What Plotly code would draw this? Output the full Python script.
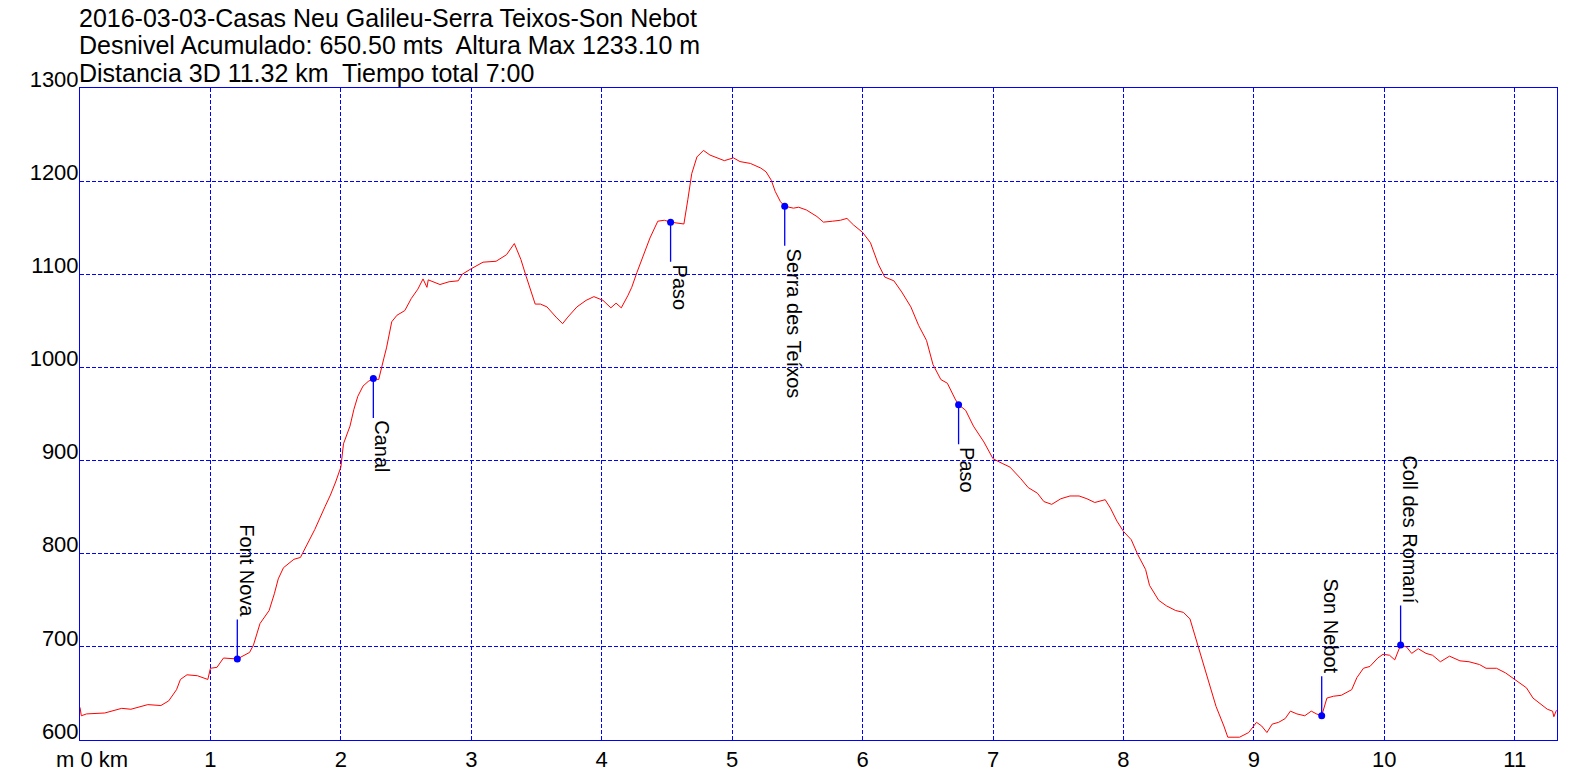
import plotly.graph_objects as go

# ---------------- data ----------------
title_lines = [
    "2016-03-03-Casas Neu Galileu-Serra Teixos-Son Nebot",
    "Desnivel Acumulado: 650.50 mts  Altura Max 1233.10 m",
    "Distancia 3D 11.32 km  Tiempo total 7:00",
]

dist_km = [0, 0.01, 0.05, 0.19, 0.32, 0.39, 0.52, 0.62, 0.68, 0.74, 0.77, 0.82, 0.90, 0.98,
           1.00, 1.05, 1.10, 1.206, 1.30, 1.33, 1.38, 1.45, 1.49, 1.52, 1.56, 1.64, 1.69, 1.74,
           1.80, 1.88, 1.92, 1.96, 2.00, 2.02, 2.07, 2.10, 2.13, 2.17, 2.21, 2.249, 2.29, 2.33,
           2.35, 2.39, 2.43, 2.49, 2.54, 2.59, 2.63, 2.66, 2.67, 2.76, 2.83, 2.90, 2.93, 3.00,
           3.09, 3.19, 3.27, 3.33, 3.38, 3.42, 3.46, 3.49, 3.53, 3.58, 3.65, 3.70, 3.74, 3.81,
           3.88, 3.94, 4.01, 4.07, 4.11, 4.15, 4.20, 4.23, 4.27, 4.32, 4.37, 4.43, 4.48, 4.528,
           4.63, 4.66, 4.69, 4.73, 4.78, 4.83, 4.89, 4.94, 5.01, 5.06, 5.14, 5.22, 5.26, 5.30,
           5.33, 5.37, 5.403, 5.47, 5.51, 5.57, 5.65, 5.70, 5.77, 5.83, 5.88, 5.93, 6.00, 6.06,
           6.12, 6.17, 6.24, 6.30, 6.37, 6.43, 6.49, 6.54, 6.60, 6.65, 6.71, 6.736, 6.79, 6.85,
           6.93, 7.00, 7.07, 7.13, 7.21, 7.27, 7.34, 7.39, 7.45, 7.52, 7.59, 7.66, 7.72, 7.78,
           7.86, 7.90, 7.95, 8.00, 8.06, 8.11, 8.17, 8.20, 8.27, 8.33, 8.40, 8.46, 8.51, 8.56,
           8.61, 8.66, 8.71, 8.77, 8.80, 8.84, 8.89, 8.96, 9.02, 9.06, 9.10, 9.14, 9.19, 9.24,
           9.28, 9.33, 9.39, 9.44, 9.48, 9.52, 9.56, 9.61, 9.67, 9.75, 9.79, 9.84, 9.89, 9.95,
           9.99, 10.04, 10.08, 10.125, 10.17, 10.21, 10.26, 10.32, 10.37, 10.43, 10.50, 10.58,
           10.65, 10.73, 10.78, 10.86, 10.93, 10.98, 11.02, 11.09, 11.14, 11.20, 11.25, 11.29,
           11.30, 11.32]

elev_m = [635, 626, 628, 629, 634, 633, 638, 637, 642, 654, 665, 670, 669, 665,
          677, 678, 688, 687, 694, 702, 725, 739, 757, 773, 785, 794, 796, 810,
          826, 851, 863, 877, 893, 918, 937, 955, 969, 980, 985, 988, 987, 1010,
          1021, 1049, 1056, 1061, 1074, 1084, 1095, 1086, 1094, 1089, 1092, 1093, 1100, 1106,
          1113, 1114, 1121, 1133, 1116, 1098, 1081, 1068, 1068, 1065, 1054, 1047, 1054, 1065,
          1072, 1076, 1072, 1064, 1069, 1064, 1077, 1086, 1102, 1120, 1139, 1157, 1158, 1156,
          1154, 1180, 1208, 1226, 1233, 1228, 1225, 1222, 1225, 1221, 1219, 1214, 1210, 1201,
          1189, 1178, 1173, 1171, 1172, 1169, 1162, 1156, 1157, 1158, 1160, 1153, 1145, 1134,
          1111, 1097, 1093, 1081, 1065, 1045, 1029, 1003, 987, 983, 966, 960, 954, 937,
          920, 902, 897, 893, 881, 871, 865, 856, 853, 859, 862, 862, 859, 855,
          858, 849, 835, 824, 815, 799, 783, 766, 750, 744, 739, 737, 730, 706,
          684, 660, 636, 615, 603, 603, 603, 608, 619, 615, 608, 617, 619, 623,
          631, 628, 626, 631, 628, 626, 645, 647, 648, 654, 667, 677, 679, 688,
          692, 691, 686, 702, 700, 693, 698, 693, 691, 684, 690, 685,
          684, 681, 677, 677, 672, 667, 663, 656, 645, 638, 633, 631,
          625, 632]

wp_names = ["Font Nova", "Canal", "Paso", "Serra des Teíxos", "Paso", "Son Nebot", "Coll des Romaní"]
wp_km = [1.206, 2.249, 4.528, 5.403, 6.736, 9.520, 10.125]
wp_elev = [687, 988, 1156, 1173, 960, 626, 702]
wp_side = ["up", "down", "down", "down", "down", "up", "up"]

x_tickvals = list(range(0, 12))
x_ticktext = [""] + [str(v) for v in range(1, 12)]
x_origin_label = "m 0 km"
y_tickvals = [600, 700, 800, 900, 1000, 1100, 1200, 1300]

assert len(dist_km) == len(elev_m)

# ---------------- figure ----------------
FONT = "Liberation Sans, Arial, sans-serif"
BLUE = "#0000ff"
TICK_SIZE = 22
STEM = 41

fig = go.Figure()
fig.add_trace(go.Scatter(x=dist_km, y=elev_m, mode="lines",
                         line=dict(color="#ff0000", width=1), hoverinfo="skip",
                         showlegend=False))
fig.add_trace(go.Scatter(x=wp_km, y=wp_elev, mode="markers",
                         marker=dict(color=BLUE, size=7), hoverinfo="skip",
                         showlegend=False))

annotations = []
for name, xk, el, side in zip(wp_names, wp_km, wp_elev, wp_side):
    down = side == "down"
    # stem
    annotations.append(dict(
        x=xk, y=el, xref="x", yref="y", text="",
        showarrow=True, arrowhead=0, arrowwidth=1.3, arrowcolor=BLUE,
        ax=0, ay=STEM if down else -STEM, standoff=0,
    ))
    # rotated label
    annotations.append(dict(
        x=xk, y=el, xref="x", yref="y", text=name, textangle=90, showarrow=False,
        xanchor="left", yanchor="top" if down else "bottom",
        xshift=-3, yshift=-STEM if down else STEM,
        font=dict(family=FONT, size=20, color="black"), borderpad=0,
    ))

title_y_px = [18, 45.5, 73]
plot_top, plot_bottom = 88, 740
for line, ypx in zip(title_lines, title_y_px):
    annotations.append(dict(
        x=0, xref="paper", xanchor="left", xshift=-3,
        y=(plot_bottom - ypx) / (plot_bottom - plot_top), yref="paper", yanchor="middle",
        text=line, showarrow=False,
        font=dict(family=FONT, size=25, color="black"),
    ))

annotations.append(dict(
    x=0, xref="x", xanchor="left", xshift=-26,
    y=0, yref="paper", yanchor="top", yshift=-5,
    text=x_origin_label, showarrow=False,
    font=dict(family=FONT, size=TICK_SIZE, color="black"),
))

grid = dict(showgrid=True, gridcolor=BLUE, gridwidth=1, griddash="4px,2px",
            showline=True, linecolor=BLUE, linewidth=1, mirror=True, automargin=False,
            zeroline=False, ticks="", tickfont=dict(family=FONT, size=TICK_SIZE, color="black"))

fig.update_layout(
    width=1596, height=778,
    margin=dict(l=80, r=39, t=88, b=38),
    paper_bgcolor="white", plot_bgcolor="white",
    font=dict(family=FONT, color="black"),
    xaxis=dict(range=[0, 11.324], tickmode="array", tickvals=x_tickvals,
               ticktext=x_ticktext, ticklabelstandoff=0, **grid),
    yaxis=dict(range=[600, 1300], tickmode="array", tickvals=y_tickvals,
               ticklen=0, ticklabelshift=-9, ticklabelstandoff=-4, **grid),
    annotations=annotations,
    showlegend=False,
)

fig.write_html("out.html", config={"displayModeBar": False},
               post_script="document.body.style.margin='0px';document.body.style.overflow='hidden';")
